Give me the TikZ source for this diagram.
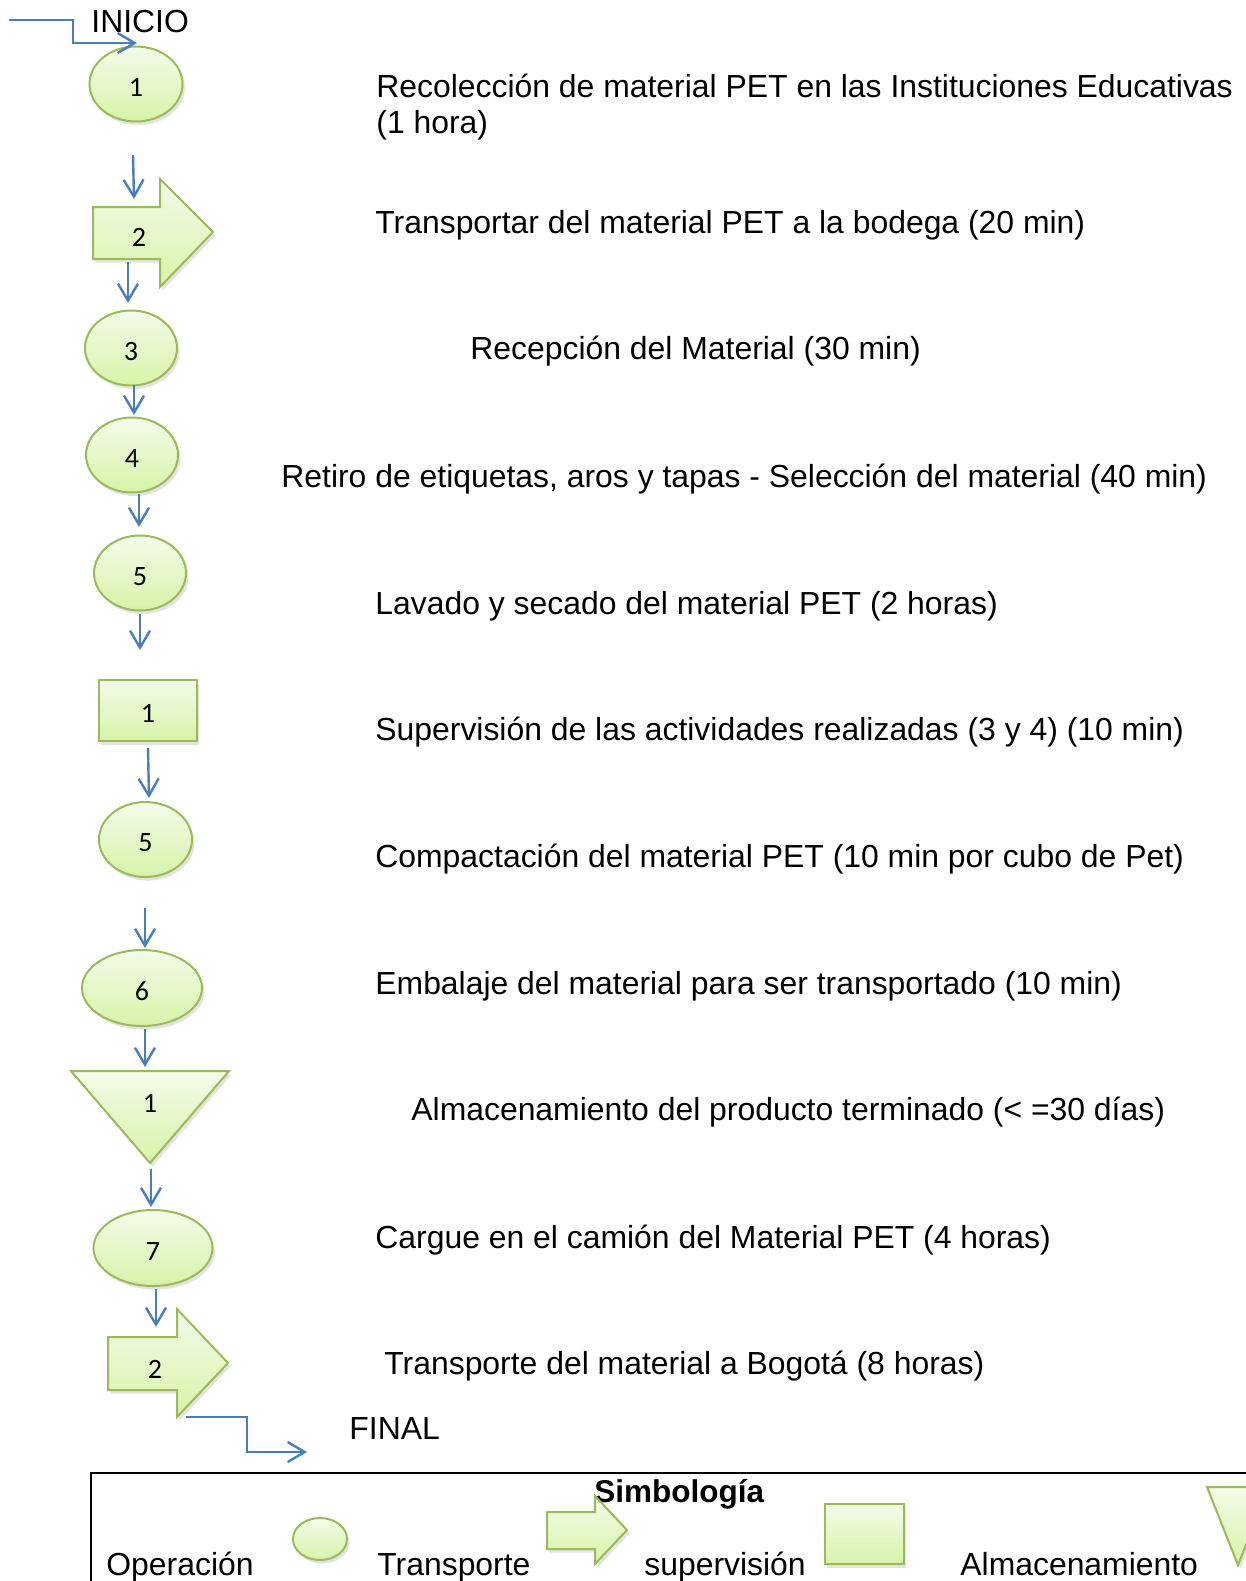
\documentclass[tikz,border=0pt]{standalone}
\usepackage{fontspec}
\setmainfont{Liberation Sans}
\newfontfamily\numfont{Carlito}
\usetikzlibrary{shapes.geometric,arrows.meta,shadows}
\definecolor{shpline}{HTML}{9BBB59}
\definecolor{shptop}{HTML}{F4FBEA}
\definecolor{shpbot}{HTML}{D6F4A8}
\definecolor{arr}{HTML}{4A7EBB}
\begin{document}
\begin{tikzpicture}[x=0.5pt,y=-0.5pt,
  shp/.style={draw=shpline, line width=1pt, top color=shptop, bottom color=shpbot,
    drop shadow={opacity=0.22, shadow xshift=1.2pt, shadow yshift=-1.8pt}},
  oval/.style={shp, ellipse, inner sep=0pt},
  box/.style={shp, rectangle, inner sep=0pt},
  num/.style={font=\numfont\fontsize{14pt}{16pt}\selectfont, inner sep=0pt, text height=12pt, text depth=0pt},
  lbl/.style={font=\fontsize{15.95pt}{18pt}\selectfont, anchor=base west, inner sep=0pt},
  conn/.style={draw=arr, line width=1.2pt, -{Straight Barb[length=8.5pt,width=10pt]}}]
\useasboundingbox (0,0) rectangle (1246,1581);
\clip (0,0) rectangle (1246,1581);
\fill[white] (0,0) rectangle (1246,1581);

% ---------- shapes ----------
\node[oval, num, minimum width=46.5pt, minimum height=37.5pt] (o1) at (136,84) {1};
\path[shp] (93,207) -- (160,207) -- (160,179) -- (213,232) -- (160,287) -- (160,259) -- (93,259) -- cycle;
\node[num] (t2) at (139,234) {2};
\node[oval, num, minimum width=46pt, minimum height=37.5pt] (o3) at (131,348) {3};
\node[oval, num, minimum width=46pt, minimum height=37.5pt] (o4) at (132,455) {4};
\node[oval, num, minimum width=46pt, minimum height=37.5pt] (o5) at (140,573) {5};
\node[box, num, minimum width=49pt, minimum height=30.5pt] (s1) at (148,710.5) {1};
\node[oval, num, minimum width=46.5pt, minimum height=37.5pt] (o5b) at (145.5,839.5) {5};
\node[oval, num, minimum width=60pt, minimum height=38pt] (o6) at (142,988) {6};
\path[shp] (71,1071) -- (229,1071) -- (150,1163) -- cycle;
\node[num] (a1) at (150,1100) {1};
\node[oval, num, minimum width=59.5pt, minimum height=38pt] (o7) at (153,1248) {7};
\path[shp] (108,1337) -- (177,1337) -- (177,1309) -- (228,1363) -- (177,1417) -- (177,1390) -- (108,1390) -- cycle;
\node[num] (t2b) at (155,1366) {2};

% ---------- connectors ----------
\coordinate (c0a) at (9,20);    \coordinate (c0b) at (137,43);
\coordinate (c1a) at (133,155); \coordinate (c1b) at (134,199);
\coordinate (c2a) at (128,262); \coordinate (c2b) at (128,303);
\coordinate (c3a) at (134,385); \coordinate (c3b) at (134,415);
\coordinate (c4a) at (139,494); \coordinate (c4b) at (139,527);
\coordinate (c5a) at (140,614); \coordinate (c5b) at (140,650);
\coordinate (c6a) at (148,748); \coordinate (c6b) at (149,798);
\coordinate (c7a) at (145,908); \coordinate (c7b) at (145,948);
\coordinate (c8a) at (145,1029); \coordinate (c8b) at (145,1067);
\coordinate (c9a) at (151,1169); \coordinate (c9b) at (151,1207);
\coordinate (c10a) at (156,1289); \coordinate (c10b) at (156,1327);
\coordinate (c11a) at (186,1417); \coordinate (c11b) at (307,1452);

\draw[conn] (c0a) -- ++(64,0) |- (c0b);
\draw[conn] (c1a) -- (c1b);
\draw[conn] (c2a) -- (c2b);
\draw[conn] (c3a) -- (c3b);
\draw[conn] (c4a) -- (c4b);
\draw[conn] (c5a) -- (c5b);
\draw[conn] (c6a) -- (c6b);
\draw[conn] (c7a) -- (c7b);
\draw[conn] (c8a) -- (c8b);
\draw[conn] (c9a) -- (c9b);
\draw[conn] (c10a) -- (c10b);
\draw[conn] (c11a) -- ++(61,0) |- (c11b);

% ---------- texts ----------
\node[lbl] (inicio) at (91,32) {INICIO};
\node[lbl] (l1) at (376,97) {Recolección de material PET en las Instituciones Educativas};
\node[lbl] (l1b) at (376,133) {(1 hora)};
\node[lbl] (l2) at (375,233) {Transportar del material PET a la bodega (20 min)};
\node[lbl] (l3) at (470,359) {Recepción del Material (30 min)};
\node[lbl] (l4) at (281,487) {Retiro de etiquetas, aros y tapas - Selección del material (40 min)};
\node[lbl] (l5) at (375,614) {Lavado y secado del material PET (2 horas)};
\node[lbl] (l6) at (375,740) {Supervisión de las actividades realizadas (3 y 4) (10 min)};
\node[lbl] (l7) at (375,867) {Compactación del material PET (10 min por cubo de Pet)};
\node[lbl] (l8) at (375,994) {Embalaje del material para ser transportado (10 min)};
\node[lbl] (l9) at (411,1120) {Almacenamiento del producto terminado (< =30 días)};
\node[lbl] (l10) at (375,1248) {Cargue en el camión del Material PET (4 horas)};
\node[lbl] (l11) at (384,1374) {Transporte del material a Bogotá (8 horas)};
\node[lbl] (final) at (349,1439) {FINAL};

% ---------- legend ----------
\draw[line width=1pt] (91,1700) -- (91,1473) -- (1400,1473);
\node[lbl, font=\bfseries\fontsize{15.75pt}{18pt}\selectfont] (simb) at (594,1502) {Simbología};
\node[lbl] (lop) at (106,1575) {Operación};
\node[oval, minimum width=27pt, minimum height=21pt] (lo) at (320,1539) {};
\node[lbl] (ltr) at (377,1575) {Transporte};
\path[shp] (547,1512) -- (595,1512) -- (595,1496) -- (627,1530) -- (595,1564) -- (595,1549) -- (547,1549) -- cycle;
\node[lbl] (lsu) at (644,1575) {supervisión};
\node[box, minimum width=39.5pt, minimum height=30pt] (ls) at (864.5,1534) {};
\node[lbl] (lal) at (960,1575) {Almacenamiento};
\path[shp] (1207,1487) -- (1269,1487) -- (1238,1565) -- cycle;
\end{tikzpicture}
\end{document}
